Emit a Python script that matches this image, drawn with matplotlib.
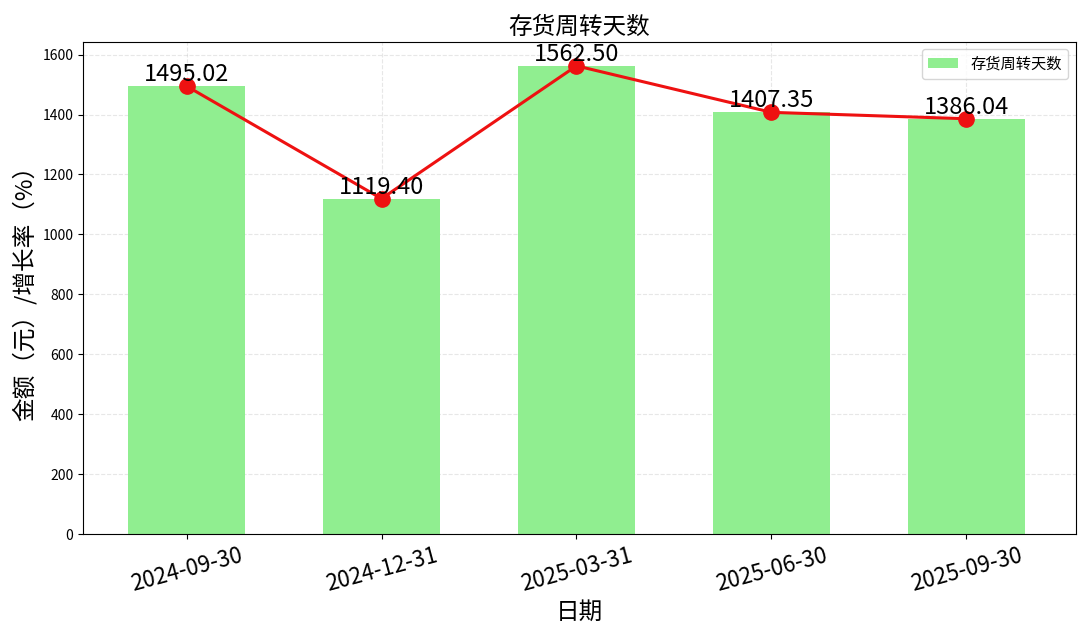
import matplotlib
matplotlib.use('Agg')
import matplotlib.pyplot as plt

plt.rcParams['font.family'] = ['Noto Sans CJK SC', 'DejaVu Sans']
plt.rcParams['axes.unicode_minus'] = False

dates = ['2024-09-30', '2024-12-31', '2025-03-31', '2025-06-30', '2025-09-30']
days = [1495.02, 1119.40, 1562.50, 1407.35, 1386.04]

fig = plt.figure(figsize=(10.8, 6.42), dpi=100)
ax = fig.add_axes([0.077, 0.168, 0.919, 0.767])
x = list(range(len(dates)))
ax.bar(x, days, width=0.6, color='#90ee90', label='存货周转天数', zorder=2)
ax.plot(x, days, color='#ee1111', linewidth=2.2, marker='o', markersize=11, zorder=3)
for i, v in zip(x, days):
    ax.text(i, v, f'{v:.2f}', ha='center', va='bottom', fontsize=17, zorder=4)

ax.set_xlim(-0.53, 4.56)
ax.set_ylim(0, 1643)
ax.set_xticks(x)
ax.set_xticklabels(dates, rotation=15, fontsize=16)
ax.tick_params(axis='y', labelsize=10)
ax.grid(True, linestyle='--', alpha=0.3, zorder=0)
ax.set_title('存货周转天数', fontsize=17)
ax.set_xlabel('日期', fontsize=17)
ax.set_ylabel('金额（元）/增长率（%）', fontsize=17)
ax.legend(loc='upper right', fontsize=11)

fig.savefig('out.png')
